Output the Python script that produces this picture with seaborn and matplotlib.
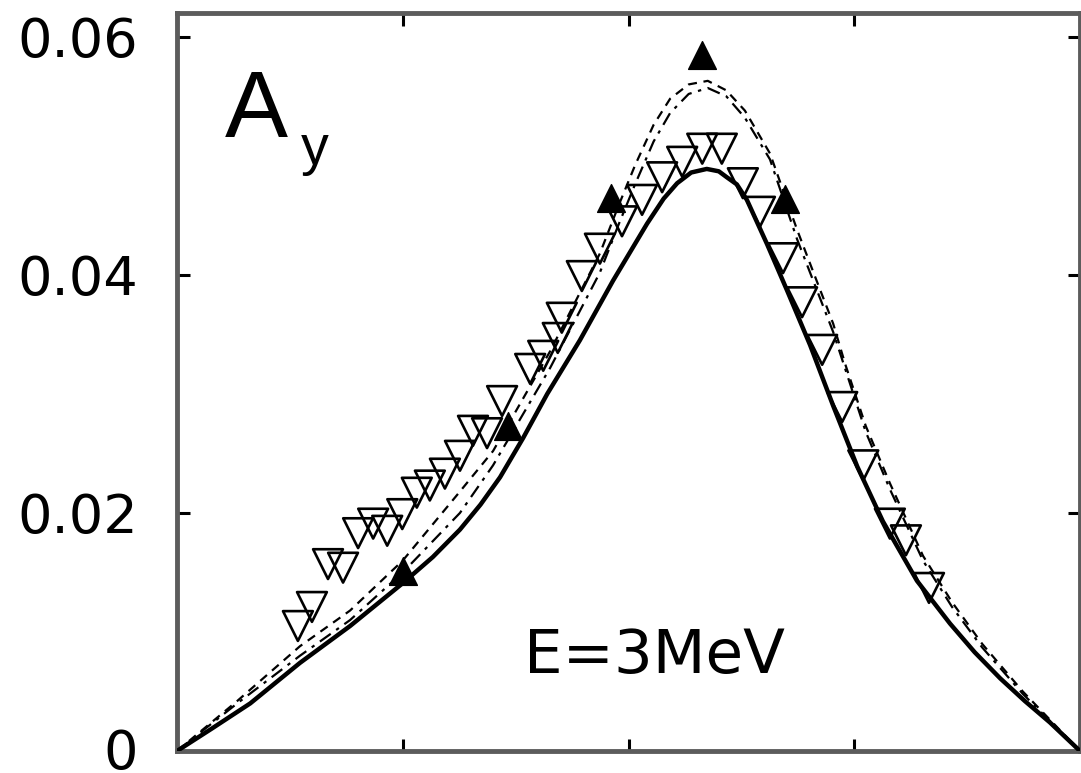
import matplotlib
matplotlib.use("Agg")
import matplotlib.pyplot as plt
import matplotlib.transforms as mtransforms
import seaborn as sns
import numpy as np

# ---- data (angle in degrees, analyzing power A_y) ----
solid_ang = [0, 7, 14.6, 24.5, 34.5, 45, 51, 56.4, 60.5, 64.4, 69, 73.8, 80.3, 86.9, 93.7,
             97, 99.7, 102.5, 105.6, 108, 109.6, 111.6, 113.6, 117.6, 121.6, 126.2, 130.8,
             135.6, 140.7, 147.5, 154.1, 159, 164.1, 169, 174, 180]
solid_val = [0, 0.0019, 0.0040, 0.0074, 0.0105, 0.0141, 0.0163, 0.0186, 0.0207, 0.0230, 0.0263,
             0.0300, 0.0345, 0.0395, 0.0443, 0.0464, 0.0477, 0.0486, 0.0489, 0.0487, 0.0482,
             0.0476, 0.0463, 0.0426, 0.0387, 0.0341, 0.0290, 0.0239, 0.0193, 0.0143, 0.0107,
             0.0083, 0.0061, 0.0042, 0.0024, 0]

dash_ang = [0, 12, 24.5, 34.5, 45, 56.4, 63.0, 74.4, 84.3, 88, 91.3, 95, 98.3, 102, 105.8,
            109.5, 113.2, 118.2, 123.6, 127.6, 130.8, 133.2, 137.3, 142.1, 148.7, 154.5,
            160.5, 168.6, 180]
dash_val = [0, 0.0042, 0.0088, 0.0118, 0.0160, 0.0218, 0.0252, 0.0336, 0.0418, 0.0458, 0.0492,
            0.0526, 0.0548, 0.0560, 0.0563, 0.0555, 0.0538, 0.0502, 0.0438, 0.0394, 0.0359,
            0.0325, 0.0273, 0.0225, 0.0164, 0.0125, 0.0090, 0.0050, 0]

dashdot_ang = [0, 12, 24.5, 34.5, 45, 56.4, 63.0, 74.4, 84.3, 88, 91.3, 95, 98.3, 102, 105.8,
               109.5, 113.2, 118.2, 123.6, 130.8, 137.3, 142.1, 148.7, 154.5, 160.5, 168.6, 180]
dashdot_val = [0, 0.0040, 0.0080, 0.0110, 0.0150, 0.0200, 0.0240, 0.0322, 0.0402, 0.0442,
               0.0476, 0.0512, 0.0536, 0.0552, 0.0557, 0.0550, 0.0532, 0.0497, 0.0430, 0.0352,
               0.0268, 0.0220, 0.0160, 0.0121, 0.0087, 0.0048, 0]

open_ang = [24.1, 26.9, 30.1, 33.1, 36.1, 39.1, 41.9, 44.9, 47.8, 50.4, 53.4, 56.4, 59.0, 61.8,
            64.8, 70.4, 73.0, 75.9, 76.7, 80.7, 84.3, 88.7, 92.7, 96.7, 100.7, 104.7, 108.6,
            112.8, 116.2, 120.8, 124.6, 128.6, 132.6, 136.8, 142.1, 145.3, 149.9]
open_val = [0.0105, 0.0121, 0.0157, 0.0154, 0.0183, 0.0191, 0.0185, 0.0199, 0.0217, 0.0223,
            0.0233, 0.0248, 0.0269, 0.0267, 0.0294, 0.0321, 0.0332, 0.0347, 0.0364, 0.0399,
            0.0422, 0.0445, 0.0463, 0.0482, 0.0495, 0.0506, 0.0506, 0.0477, 0.0453, 0.0414,
            0.0377, 0.0337, 0.0289, 0.0240, 0.0191, 0.0177, 0.0137]

fill_ang = [45.0, 66.0, 86.5, 104.7, 121.2]
fill_val = [0.0151, 0.0273, 0.0465, 0.0585, 0.0464]

y_ticks = [0, 0.02, 0.04, 0.06]
y_labels = ["0", "0.02", "0.04", "0.06"]
x_ticks = [0, 45, 90, 135, 180]

# ---- figure ----
sns.set_style("ticks")
plt.rcParams["font.family"] = ["DejaVu Sans"]

W, H = 1081, 773
fig = plt.figure(figsize=(W / 100, H / 100), dpi=100)
ax = fig.add_axes([177 / W, 1 - 751 / H, (1080 - 177) / W, (751 - 13) / H])

sns.lineplot(x=solid_ang, y=solid_val, ax=ax, color="black", linewidth=3.2,
             sort=False, estimator=None, zorder=3)
sns.lineplot(x=dash_ang, y=dash_val, ax=ax, color="black", linewidth=1.6,
             sort=False, estimator=None, zorder=3)
ax.lines[-1].set_linestyle((0, (4, 3)))
sns.lineplot(x=dashdot_ang, y=dashdot_val, ax=ax, color="black", linewidth=1.6,
             sort=False, estimator=None, zorder=3)
ax.lines[-1].set_linestyle((0, (6, 3, 1.5, 3)))

sns.scatterplot(x=open_ang, y=open_val, ax=ax, marker="v", s=460,
                facecolors="none", edgecolor="black", linewidth=1.9, zorder=4)
sns.scatterplot(x=fill_ang, y=fill_val, ax=ax, marker="^", s=400,
                color="black", edgecolor="black", linewidth=1.0, zorder=5)

ax.set_xlim(0, 180)
ax.set_ylim(0, 0.062)
ax.set_xticks(x_ticks)
ax.set_xticklabels([])
ax.set_yticks(y_ticks)
ax.set_yticklabels(y_labels)
ax.set_xlabel("")
ax.set_ylabel("")

for sp in ax.spines.values():
    sp.set_visible(True)
    sp.set_color("#5c5c5c")
    sp.set_linewidth(3.5)

ax.tick_params(axis="both", which="both", direction="in", length=9, width=2.2,
               color="black", top=True, right=True, labelsize=39, pad=28,
               labelcolor="black")

# nudge the bottom "0" label up slightly so it stays inside the canvas
zero_lab = ax.yaxis.get_major_ticks()[0].label1
zero_lab.set_transform(zero_lab.get_transform() +
                       mtransforms.ScaledTranslation(0, 3 / 100, fig.dpi_scale_trans))

fig.text(225 / W, 1 - 137 / H, "A", fontsize=68, family=["Liberation Sans", "DejaVu Sans"],
         ha="left", va="baseline", color="black")
fig.text(301 / W, 1 - 164 / H, "y", fontsize=40, family=["Liberation Sans", "DejaVu Sans"],
         ha="left", va="baseline", color="black")
fig.text(524 / W, 1 - 673 / H, "E=3MeV", fontsize=44, ha="left", va="baseline", color="black")

fig.savefig("out.png", dpi=100)
